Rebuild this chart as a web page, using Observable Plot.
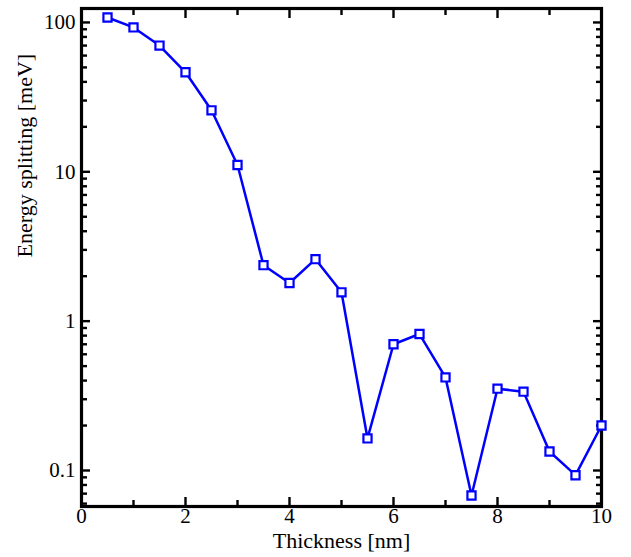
<!DOCTYPE html>
<html><head><meta charset="utf-8">
<script src="https://cdn.jsdelivr.net/npm/d3@7"></script>
<script src="https://cdn.jsdelivr.net/npm/@observablehq/plot@0.6"></script>
<style>body{margin:0;background:#fff}</style>
</head><body><div id="chart"></div>
<script>
const thickness = [0.5,1,1.5,2,2.5,3,3.5,4,4.5,5,5.5,6,6.5,7,7.5,8,8.5,9,9.5,10];
const splitting = [108,92.6,70,46.4,25.8,11.1,2.37,1.80,2.60,1.56,0.164,0.70,0.82,0.42,0.068,0.353,0.337,0.134,0.093,0.20];
const xMajor = [0,2,4,6,8,10];
const xMinor = [1,3,5,7,9];
const yMajor = [0.1,1,10,100];
const yMinor = [0.06,0.07,0.08,0.09,0.2,0.3,0.4,0.5,0.6,0.7,0.8,0.9,2,3,4,5,6,7,8,9,20,30,40,50,60,70,80,90];
const xLabel = "Thickness [nm]";
const yLabel = "Energy splitting [meV]";

const data = thickness.map((t,i)=>({t, e: splitting[i]}));
const font = "Liberation Serif, Times New Roman, serif";
const tw = 2.4;
const M = 9, m = 6;
const chart = Plot.plot({
  width: 631, height: 557,
  marginLeft: 81, marginRight: 30, marginTop: 8, marginBottom: 51,
  style: {fontFamily: font, fontSize: "21px", background: "#fff", color: "#000"},
  x: {domain: [0,10]},
  y: {type: "log", domain: [0.0574, 124]},
  marks: [
    Plot.axisX(xMajor, {anchor:"bottom", tickSize:0, tickPadding: 2, tickFormat: d=>String(d), label:null, fontSize: 21}),
    Plot.axisY(yMajor, {anchor:"left", tickSize:0, tickPadding: 6, tickFormat: d=>String(d), label:null, fontSize: 21}),
    Plot.axisX(xMajor, {anchor:"bottom", tickSize:M, dy:-M, text:null, label:null, strokeWidth: tw}),
    Plot.axisX(xMajor, {anchor:"top", tickSize:M, dy:M, text:null, label:null, strokeWidth: tw}),
    Plot.axisX(xMinor, {anchor:"bottom", tickSize:m, dy:-m, text:null, label:null, strokeWidth: tw}),
    Plot.axisX(xMinor, {anchor:"top", tickSize:m, dy:m, text:null, label:null, strokeWidth: tw}),
    Plot.axisY(yMajor, {anchor:"left", tickSize:M, dx:M, text:null, label:null, strokeWidth: tw}),
    Plot.axisY(yMajor, {anchor:"right", tickSize:M, dx:-M, text:null, label:null, strokeWidth: tw}),
    Plot.axisY(yMinor, {anchor:"left", tickSize:m, dx:m, text:null, label:null, strokeWidth: tw}),
    Plot.axisY(yMinor, {anchor:"right", tickSize:m, dx:-m, text:null, label:null, strokeWidth: tw}),
    Plot.frame({stroke:"#000", strokeWidth: 3.2}),
    Plot.text([xLabel], {frameAnchor:"bottom", dy: 41, text: d=>d, fontSize: 22}),
    Plot.text([yLabel], {frameAnchor:"left", dx: -57, rotate: -90, text: d=>d, fontSize: 22}),
    Plot.line(data, {x:"t", y:"e", stroke:"#0000ff", strokeWidth: 2.5}),
    Plot.dot(data, {x:"t", y:"e", symbol:"square", r: 4.6, stroke:"#0000ff", strokeWidth: 2.2, fill:"#fff"})
  ]
});
document.getElementById("chart").append(chart);
</script>
</body></html>
